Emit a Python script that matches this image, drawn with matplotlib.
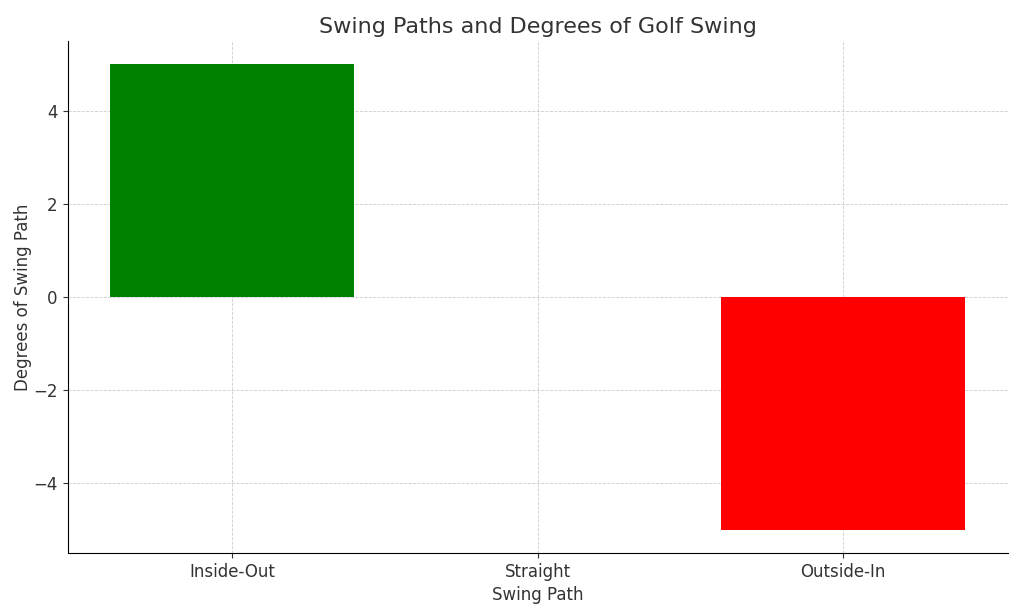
import matplotlib.pyplot as plt

# Swing path data
swing_paths = ['Inside-Out', 'Straight', 'Outside-In']
degrees = [5, 0, -5]
bar_colors = ['green', 'blue', 'red']

plt.rcParams['text.color'] = '#333333'
plt.rcParams['axes.labelcolor'] = '#333333'
plt.rcParams['xtick.color'] = '#333333'
plt.rcParams['ytick.color'] = '#333333'

fig, ax = plt.subplots(figsize=(10.24, 6.14), dpi=100)
ax.bar(swing_paths, degrees, color=bar_colors, width=0.8)

ax.set_title('Swing Paths and Degrees of Golf Swing', fontsize=16)
ax.set_xlabel('Swing Path', fontsize=12)
ax.set_ylabel('Degrees of Swing Path', fontsize=12, labelpad=1)
ax.tick_params(labelsize=12)
ax.grid(True, linestyle='--', linewidth=0.6, color='#cccccc')
ax.set_axisbelow(True)
ax.spines['top'].set_visible(False)
ax.spines['right'].set_visible(False)

fig.subplots_adjust(left=0.066, right=0.984, top=0.933, bottom=0.099)
fig.savefig('out.png', dpi=100)
